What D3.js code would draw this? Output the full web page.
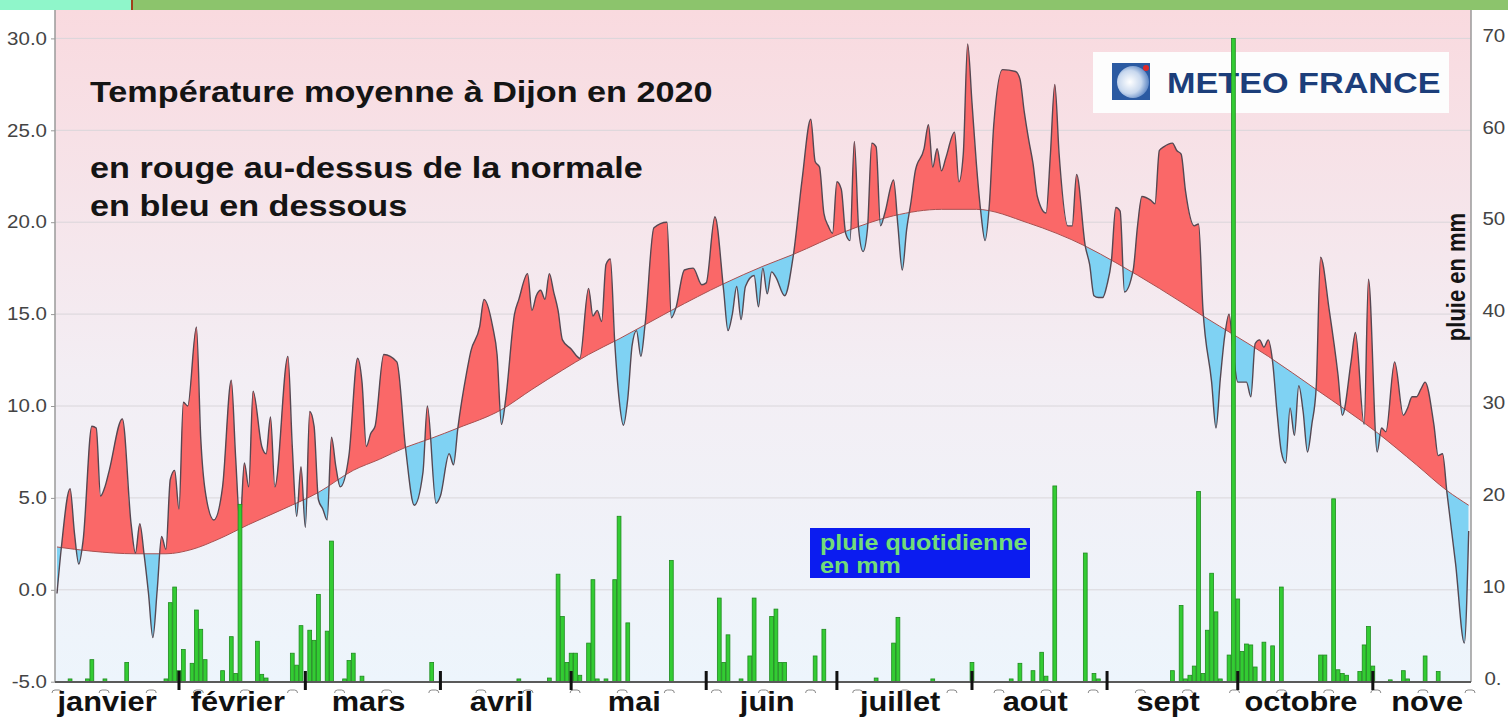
<!DOCTYPE html>
<html>
<head>
<meta charset="utf-8">
<script src="https://cdn.jsdelivr.net/npm/d3@7"></script>
<style>
  html, body { margin: 0; padding: 0; background: #fff; overflow: hidden; }
  svg { display: block; font-family: "Liberation Sans", Arial, sans-serif; }
</style>
</head>
<body>
<svg id="chart" width="1508" height="718"></svg>
<script>
// day of year 2020 -> daily mean temperature (°C)
const TEMP = [
  [4,-0.2],[5,2.3],[7,5.5],[8,3.1],[9,1.4],[10,2.7],[12,8.9],[13,8.8],[14,5.1],[15,5.6],
  [16,6.5],[19,9.3],[21,3.6],[22,2.0],[23,3.6],[24,1.9],[25,-0.2],[26,-2.6],[27,0.0],[28,2.9],
  [29,2.2],[30,6.0],[31,6.5],[32,4.4],[33,10.2],[34,10.0],[36,14.3],[37,8.2],[38,5.4],[40,3.8],
  [42,5.6],[44,11.4],[45,7.2],[46,3.6],[47,6.9],[48,5.6],[49,10.8],[51,7.8],[52,7.4],[53,9.4],
  [54,5.6],[57,12.7],[58,7.8],[59,4.0],[60,6.7],[61,3.4],[62,9.7],[63,8.9],[64,4.9],[65,4.4],
  [66,3.8],[67,8.3],[68,6.7],[69,5.6],[71,7.3],[73,12.6],[74,11.3],[75,7.8],[76,8.5],[77,8.9],
  [79,12.8],[82,12.4],[84,7.7],[86,4.6],[88,6.4],[89,10.0],[91,4.7],[92,5.1],[94,7.4],[95,6.8],
  [96,8.8],[98,11.8],[99,13.0],[101,14.3],[102,15.8],[104,14.3],[105,12.8],[106,9.0],[107,10.4],[109,15.0],
  [110,15.8],[112,17.2],[113,15.2],[114,16.0],[115,16.3],[116,15.8],[117,17.2],[118,16.2],[119,15.2],[120,13.6],
  [122,13.1],[124,12.6],[126,16.4],[127,14.9],[128,15.2],[129,14.6],[130,17.7],[131,18.0],[132,13.5],[133,10.4],
  [134,8.95],[135,10.4],[136,13.3],[137,14.1],[138,12.7],[139,14.5],[141,19.7],[144,20.0],[145,14.8],[146,15.3],
  [148,17.4],[150,17.5],[152,16.6],[153,16.7],[155,20.3],[157,16.3],[158,14.1],[159,15.0],[160,16.5],[161,14.7],
  [162,16.5],[164,17.1],[165,15.4],[166,17.5],[167,16.1],[168,17.3],[169,17.0],[171,16.0],[173,18.2],[175,22.3],
  [177,25.6],[178,23.3],[179,23.0],[180,20.5],[181,19.8],[182,19.4],[183,22.2],[184,21.8],[185,19.4],[186,19.0],
  [187,24.4],[188,19.6],[189,18.4],[190,19.6],[191,24.3],[192,24.1],[193,19.8],[194,20.5],[196,22.3],[197,19.8],
  [198,17.4],[199,19.6],[200,21.1],[201,22.8],[203,24.0],[204,25.3],[205,23.0],[206,24.0],[207,22.8],[208,23.5],
  [210,24.9],[211,22.2],[212,23.7],[213,29.7],[214,26.5],[215,23.2],[216,20.6],[217,19.0],[218,21.0],[219,25.3],
  [221,28.3],[224,28.2],[225,27.8],[226,26.0],[227,24.5],[228,23.2],[229,21.4],[231,20.5],[232,23.7],[233,27.5],
  [234,23.7],[236,19.8],[237,19.8],[238,22.6],[240,18.7],[241,17.7],[242,16.0],[243,15.9],[244,15.9],[245,16.6],
  [246,17.9],[247,20.8],[248,20.6],[249,16.2],[251,17.4],[252,19.8],[253,21.4],[255,21.2],[256,21.0],[257,23.9],
  [258,24.1],[260,24.3],[261,23.9],[262,23.7],[263,21.7],[265,19.8],[266,19.9],[267,15.3],[269,11.3],[270,8.8],
  [271,11.5],[272,13.8],[273,15.0],[274,12.8],[275,11.3],[277,11.3],[278,10.5],[279,13.4],[280,13.6],[281,13.2],
  [282,13.6],[283,12.4],[284,9.7],[285,7.5],[286,6.9],[287,9.9],[288,8.4],[289,11.1],[290,9.7],[291,7.5],
  [292,9.0],[293,11.0],[294,18.1],[296,15.2],[298,11.7],[299,9.5],[301,12.4],[302,14.0],[304,9.0],[305,16.9],
  [307,7.5],[308,8.8],[309,8.6],[311,12.4],[313,9.5],[314,9.9],[315,10.5],[316,10.5],[317,10.9],[318,11.3],
  [320,9.0],[321,7.3],[322,7.4],[323,5.3],[325,1.4],[327,-2.9],[328,3.2]
];

// seasonal normal (°C)
const NORMAL = [
  [4,2.33],[12,2.1],[22,1.96],[29,1.96],[35,2.2],[41,2.75],[48,3.55],[56,4.4],[64,5.3],[72,6.5],
  [78,7.1],[84,7.75],[90,8.25],[96,8.8],[106,9.8],[113,10.9],[120,11.95],[126,12.8],[133,13.65],[145,15.2],
  [157,16.65],[166,17.6],[173,18.25],[185,19.5],[196,20.35],[207,20.7],[215,20.7],[227,19.95],[240,18.7],[247,17.8],
  [257,16.4],[267,14.9],[282,12.7],[293,10.9],[307,8.55],[316,6.8],[323,5.4],[328,4.6]
];

// daily rain (mm)
const RAIN = [
  [7,0.3],[11,0.3],[12,2.4],[15,0.3],[20,2.1],[29,0.3],[30,8.6],[31,10.3],[32,1.2],[33,3.5],
  [35,2.0],[36,7.8],[37,5.7],[38,2.4],[42,1.2],[44,4.9],[45,0.9],[46,19.3],[50,4.4],[51,0.8],
  [52,0.4],[58,3.1],[59,1.8],[60,6.1],[62,5.6],[63,4.5],[64,9.5],[66,5.5],[67,15.3],[70,0.3],
  [71,2.3],[72,3.1],[74,0.6],[90,2.1],[110,0.3],[117,0.4],[119,11.7],[120,7.1],[121,2.1],[122,3.1],
  [123,3.1],[124,0.7],[126,4.2],[127,11.1],[128,0.3],[130,0.3],[132,11.1],[133,18.0],[135,6.4],[145,13.2],
  [156,9.1],[157,2.1],[158,5.1],[161,0.3],[163,2.8],[164,9.1],[168,7.1],[169,7.9],[170,2.1],[171,2.1],
  [178,2.8],[180,5.7],[192,0.4],[196,4.2],[197,7.0],[205,0.3],[214,2.1],[223,0.3],[225,2.0],[228,1.2],
  [230,3.2],[231,0.6],[233,21.3],[240,14.0],[242,0.9],[243,0.3],[260,1.2],[262,8.3],[263,0.3],[264,0.7],
  [265,1.7],[266,20.7],[267,0.9],[268,5.6],[269,11.8],[270,7.6],[271,0.3],[273,2.9],[274,70.0],[275,9.0],
  [276,3.3],[277,4.1],[278,4.0],[279,1.6],[281,4.3],[283,3.9],[285,10.3],[294,2.9],[295,2.9],[297,19.9],
  [298,1.3],[299,0.9],[300,0.7],[303,1.1],[304,4.0],[305,6.0],[306,1.7],[310,0.2],[313,1.2],[314,0.3],
  [318,2.8],[321,1.1]
];

const MONTH_LABELS = ["janvier","février","mars","avril","mai","juin","juillet","aout","sept","octobre","nove"];
const MONTH_FIRST = [1,32,61,92,122,153,183,214,245,275,306,336];
const TEMP_TICKS = [-5,0,5,10,15,20,25,30];
const RAIN_TICKS = [0,10,20,30,40,50,60,70];
const RAIN_TICK_LABELS = ["0.","10","20","30","40","50","60","70"];
const TITLE = "Température moyenne à Dijon en 2020";
const SUB = ["en rouge au-dessus de la normale", "en bleu en dessous"];

const W = 1508, H = 718;
const PLOT = { left: 55, right: 1471, top: 10, bottom: 682 };
const SX = 1.14;   // the source picture is stretched sideways a bit

const svg = d3.select("#chart");
const defs = svg.append("defs");

const x = d3.scaleLinear().domain([4, 328.3]).range([57, 1470]);
const yT = d3.scaleLinear().domain([-5, 30]).range([681.7, 38.4]);
const yR = d3.scaleLinear().domain([0, 70]).range([681.7, 38.4]);

// stretched text helper
function sText(sel, px, py, str) {
  return sel.append("text").attr("transform", `translate(${px},${py}) scale(${SX},1)`).text(str);
}

// top band
svg.append("rect").attr("x", 0).attr("y", 0).attr("width", W).attr("height", 10).attr("fill", "#8cc46c");
svg.append("rect").attr("x", 0).attr("y", 0).attr("width", 131).attr("height", 10).attr("fill", "#8ff6ca");
svg.append("rect").attr("x", 131).attr("y", 0).attr("width", 2).attr("height", 10).attr("fill", "#a0401a");

// plot background
const grad = defs.append("linearGradient").attr("id", "bg").attr("x1", 0).attr("y1", 0).attr("x2", 0).attr("y2", 1);
grad.append("stop").attr("offset", "0%").attr("stop-color", "#f9dadf");
grad.append("stop").attr("offset", "55%").attr("stop-color", "#f3eef4");
grad.append("stop").attr("offset", "100%").attr("stop-color", "#edf5fc");
svg.append("rect").attr("x", PLOT.left).attr("y", PLOT.top)
  .attr("width", PLOT.right - PLOT.left).attr("height", PLOT.bottom - PLOT.top).attr("fill", "url(#bg)");

// grid
svg.append("g").selectAll("line").data(TEMP_TICKS.slice(1)).join("line")
  .attr("x1", PLOT.left).attr("x2", PLOT.right)
  .attr("y1", d => yT(d)).attr("y2", d => yT(d))
  .attr("stroke", "#d9d6da").attr("stroke-width", 1);

// temperature vs normal
const curve = d3.curveMonotoneX;
const aboveNorm = d3.area().x(d => x(d[0])).y0(PLOT.top).y1(d => yT(d[1])).curve(curve);
const belowNorm = d3.area().x(d => x(d[0])).y0(PLOT.bottom).y1(d => yT(d[1])).curve(curve);
defs.append("clipPath").attr("id", "clip-above").append("path").attr("d", aboveNorm(NORMAL));
defs.append("clipPath").attr("id", "clip-below").append("path").attr("d", belowNorm(NORMAL));

const gT = svg.append("g");
gT.append("path").attr("d", belowNorm(TEMP)).attr("fill", "#fa6868").attr("clip-path", "url(#clip-above)");
gT.append("path").attr("d", aboveNorm(TEMP)).attr("fill", "#7fd2f3").attr("clip-path", "url(#clip-below)");

const line = d3.line().x(d => x(d[0])).y(d => yT(d[1])).curve(curve);
gT.append("path").attr("d", line(NORMAL)).attr("fill", "none").attr("stroke", "#a85050").attr("stroke-width", 1);
gT.append("path").attr("d", line(TEMP)).attr("fill", "none").attr("stroke", "#554852").attr("stroke-width", 1.4)
  .attr("stroke-linejoin", "round");

// titles
const gTitle = svg.append("g").attr("font-weight", "bold").attr("font-size", 30).attr("fill", "#141414");
sText(gTitle, 90, 102, TITLE);
sText(gTitle, 90, 178, SUB[0]);
sText(gTitle, 90, 216, SUB[1]);

// logo
const gLogo = svg.append("g");
gLogo.append("rect").attr("x", 1093).attr("y", 52).attr("width", 356).attr("height", 61).attr("fill", "#fdfdfd");
const rg = defs.append("radialGradient").attr("id", "globe").attr("cx", "40%").attr("cy", "50%").attr("r", "60%");
rg.append("stop").attr("offset", "0%").attr("stop-color", "#ffffff");
rg.append("stop").attr("offset", "60%").attr("stop-color", "#c8d8ee");
rg.append("stop").attr("offset", "100%").attr("stop-color", "#5d86c4");
gLogo.append("rect").attr("x", 1112).attr("y", 63).attr("width", 38).attr("height", 37).attr("fill", "#2b5aa2");
gLogo.append("circle").attr("cx", 1133).attr("cy", 82).attr("r", 16).attr("fill", "url(#globe)");
gLogo.append("circle").attr("cx", 1146).attr("cy", 68).attr("r", 3).attr("fill", "#e02828");
sText(gLogo, 1167, 93, "METEO FRANCE").attr("font-weight", "bold").attr("font-size", 30).attr("fill", "#1c3e7a");

// rain legend box
const gLeg = svg.append("g");
gLeg.append("rect").attr("x", 810).attr("y", 528).attr("width", 220).attr("height", 50).attr("fill", "#0b1cf0");
const gLegT = gLeg.append("g").attr("font-weight", "bold").attr("font-size", 22).attr("fill", "#72dc78");
sText(gLegT, 820, 550, "pluie quotidienne");
sText(gLegT, 820, 573, "en mm");

// rain bars
const barW = 3.8;
svg.append("g").selectAll("rect").data(RAIN).join("rect")
  .attr("x", d => x(d[0]) - barW / 2)
  .attr("y", d => yR(d[1]))
  .attr("width", barW)
  .attr("height", d => yR(0) - yR(d[1]))
  .attr("fill", "#33cc33").attr("stroke", "#1f8a1f").attr("stroke-width", 0.8);

// axes
svg.append("line").attr("x1", PLOT.left).attr("x2", PLOT.left).attr("y1", PLOT.top).attr("y2", PLOT.bottom)
  .attr("stroke", "#9a9a9a").attr("stroke-width", 1.5);
svg.append("line").attr("x1", PLOT.right).attr("x2", PLOT.right).attr("y1", PLOT.top).attr("y2", PLOT.bottom)
  .attr("stroke", "#9a9a9a").attr("stroke-width", 1.5);

const axL = svg.append("g").attr("transform", `translate(${PLOT.left},0)`)
  .call(d3.axisLeft(yT).tickValues(TEMP_TICKS).tickFormat(d => d.toFixed(1)).tickSize(4).tickPadding(3));
const axR = svg.append("g").attr("transform", `translate(${PLOT.right},0)`)
  .call(d3.axisRight(yR).tickValues(RAIN_TICKS).tickFormat((d, i) => RAIN_TICK_LABELS[i]).tickSize(0).tickPadding(10));
[axL, axR].forEach(a => {
  a.select(".domain").remove();
  a.selectAll("line").attr("stroke", "#999");
  a.selectAll("text").attr("font-size", 18).attr("fill", "#444")
    .attr("font-family", "'Liberation Sans', Arial, sans-serif")
    .attr("transform", `scale(${SX},1)`);
});
axR.selectAll("text").attr("dy", "0.15em").filter(d => d === 0).attr("dx", "0.1em");

// x axis base line
svg.append("line").attr("x1", PLOT.left).attr("x2", PLOT.right).attr("y1", PLOT.bottom).attr("y2", PLOT.bottom)
  .attr("stroke", "#5a5a5a").attr("stroke-width", 2);

// small bracket ticks along the date axis
const tickIdx = d3.scaleLinear().domain([0, 30]).range(x.range());
svg.append("g").selectAll("path").data(d3.range(31)).join("path")
  .attr("d", i => { const c = tickIdx(i), b = PLOT.bottom + 8;
    return `M${c - 5},${b + 3} Q${c - 5},${b} ${c - 2},${b} L${c + 2},${b} Q${c + 5},${b} ${c + 5},${b + 3}`; })
  .attr("fill", "none").attr("stroke", "#8a8a8a").attr("stroke-width", 1);

// month boundary ticks
svg.append("g").selectAll("rect").data(MONTH_FIRST.filter(d => d > x.domain()[0] && d < x.domain()[1])).join("rect")
  .attr("x", d => x(d) - 1.5).attr("y", PLOT.bottom - 11).attr("width", 3).attr("height", 19)
  .attr("fill", "#111");

// month names
const gM = svg.append("g").attr("font-weight", "bold").attr("font-size", 27).attr("fill", "#111")
  .attr("text-anchor", "middle");
MONTH_LABELS.forEach((m, i) => {
  let cx = x((MONTH_FIRST[i] + MONTH_FIRST[i + 1]) / 2 - 1);
  const t = sText(gM, cx, 711, m);
  const half = t.node().getComputedTextLength() * SX / 2;
  if (cx + half > PLOT.right - 8) {
    cx = PLOT.right - 8 - half;
    t.attr("transform", `translate(${cx},711) scale(${SX},1)`);
  }
});

// right axis title
svg.append("text")
  .attr("transform", `translate(1465,277) rotate(-90) scale(1,${SX})`)
  .attr("text-anchor", "middle").attr("font-weight", "bold").attr("font-size", 22).attr("fill", "#141414")
  .text("pluie en mm");
</script>
</body>
</html>
